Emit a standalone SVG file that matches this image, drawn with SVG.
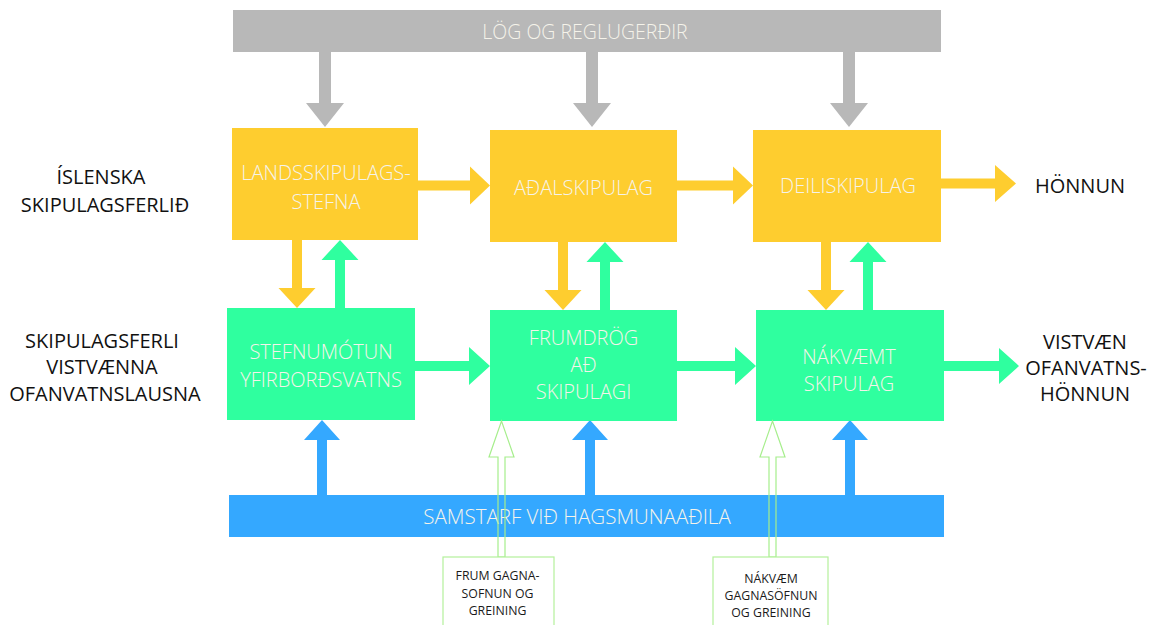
<svg xmlns="http://www.w3.org/2000/svg" width="1150" height="625" viewBox="0 0 1150 625">
<style>
.gray{fill:#b8b8b8}
.yel{fill:#fecd2f}
.grn{fill:#2fff9f}
.blu{fill:#34a8ff}
.open{fill:none;stroke:#a6ee8c;stroke-width:1.2}
.src{fill:#fff;stroke:#b4f09c;stroke-width:1.2}
text{font-family:"Open Sans","Liberation Sans",sans-serif;text-anchor:middle}
.in{fill:#f5f3ea;font-size:20px;font-weight:350}
.out{fill:#111;font-size:20px}
.sm{fill:#1a1a1a;font-size:12.3px}
</style>
<rect width="1150" height="625" fill="#fff"/>
<g id="connectors">
  <polygon class="gray" points="319,52 331,52 331,103 344,103 325,127 306,103 319,103"/>
  <polygon class="gray" points="586,52 598,52 598,103 611,103 592,127 573,103 586,103"/>
  <polygon class="gray" points="843,52 855,52 855,103 868,103 849,127 830,103 843,103"/>
  <polygon class="yel" points="418,180.5 470,180.5 470,166.5 490,185.5 470,204.5 470,190.5 418,190.5"/>
  <polygon class="yel" points="677,180.5 733,180.5 733,166.5 753,185.5 733,204.5 733,190.5 677,190.5"/>
  <polygon class="yel" points="940,178.5 995,178.5 995,165 1016,183.5 995,202 995,188.5 940,188.5"/>
  <polygon class="yel" points="292,240 302,240 302,288 315.5,288 297,308 278.5,288 292,288"/>
  <polygon class="yel" points="558,242 568,242 568,290 581.5,290 563,310 544.5,290 558,290"/>
  <polygon class="yel" points="821,242 831,242 831,290 844.5,290 826,310 807.5,290 821,290"/>
  <polygon class="grn" points="335,308 345,308 345,260 358.5,260 340,240 321.5,260 335,260"/>
  <polygon class="grn" points="600,310 610,310 610,262 623.5,262 605,242 586.5,262 600,262"/>
  <polygon class="grn" points="863,310 873,310 873,262 886.5,262 868,242 849.5,262 863,262"/>
  <polygon class="grn" points="415,361 469,361 469,347 490,366 469,385 469,371 415,371"/>
  <polygon class="grn" points="677,361 735,361 735,347 756,366 735,385 735,371 677,371"/>
  <polygon class="grn" points="943,361 999,361 999,348 1019,366 999,384 999,371 943,371"/>
  <polygon class="blu" points="317,495 327,495 327,440 340,440 322,420 304,440 317,440"/>
  <polygon class="blu" points="585,495 595,495 595,440 608,440 590,420 572,440 585,440"/>
  <polygon class="blu" points="845,495 855,495 855,440 868,440 850,420 832,440 845,440"/>
</g>
<g id="laws">
  <rect class="gray" x="233" y="10" width="708" height="42"/>
  <text class="in" x="585" y="39" style="font-size:19.5px">LÖG OG REGLUGERÐIR</text>
</g>
<g id="landsskipulag">
  <rect class="yel" x="232" y="128" width="186" height="112"/>
  <text class="in" x="326" y="180">LANDSSKIPULAGS-</text>
  <text class="in" x="326" y="209">STEFNA</text>
</g>
<g id="adalskipulag">
  <rect class="yel" x="490" y="130" width="187" height="112"/>
  <text class="in" x="583.5" y="195">AÐALSKIPULAG</text>
</g>
<g id="deiliskipulag">
  <rect class="yel" x="753" y="130" width="188" height="112"/>
  <text class="in" x="848" y="193">DEILISKIPULAG</text>
</g>
<g id="stefnumotun">
  <rect class="grn" x="227" y="308" width="188" height="112"/>
  <text class="in" x="321" y="359">STEFNUMÓTUN</text>
  <text class="in" x="321" y="387">YFIRBORÐSVATNS</text>
</g>
<g id="frumdrog">
  <rect class="grn" x="490" y="310" width="187" height="111"/>
  <text class="in" x="583.5" y="345">FRUMDRÖG</text>
  <text class="in" x="583.5" y="372">AÐ</text>
  <text class="in" x="583.5" y="399">SKIPULAGI</text>
</g>
<g id="nakvaemt">
  <rect class="grn" x="756" y="310" width="188" height="111"/>
  <text class="in" x="849" y="364">NÁKVÆMT</text>
  <text class="in" x="849" y="391">SKIPULAG</text>
</g>
<g id="samstarf">
  <rect class="blu" x="229" y="495" width="715" height="42"/>
  <text class="in" x="577" y="524" style="font-size:20.5px">SAMSTARF VIÐ HAGSMUNAAÐILA</text>
</g>
<g id="open-arrows">
  <polygon class="open" points="498,557 498,457 489,457 501.5,421 514,457 505,457 505,557"/>
  <polygon class="open" points="769,557 769,457 760,457 772.5,421 785,457 776,457 776,557"/>
</g>
<g id="frum-gagnasofnun">
  <rect class="src" x="443" y="557" width="111" height="80"/>
  <text class="sm" x="497.5" y="580">FRUM GAGNA-</text>
  <text class="sm" x="497.5" y="598">SOFNUN OG</text>
  <text class="sm" x="497.5" y="615">GREINING</text>
</g>
<g id="nakvaem-gagnasofnun">
  <rect class="src" x="713" y="557" width="115" height="80"/>
  <text class="sm" x="771" y="583">NÁKVÆM</text>
  <text class="sm" x="771" y="600">GAGNASÖFNUN</text>
  <text class="sm" x="771" y="617">OG GREINING</text>
</g>
<g id="label-islenska">
  <text class="out" x="101" y="184">ÍSLENSKA</text>
  <text class="out" x="105" y="212">SKIPULAGSFERLIÐ</text>
</g>
<g id="label-vistvaent">
  <text class="out" x="102" y="348">SKIPULAGSFERLI</text>
  <text class="out" x="102" y="374">VISTVÆNNA</text>
  <text class="out" x="105" y="401">OFANVATNSLAUSNA</text>
</g>
<g id="label-honnun">
  <text class="out" x="1080" y="193">HÖNNUN</text>
</g>
<g id="label-vistvaen-honnun">
  <text class="out" x="1085" y="349">VISTVÆN</text>
  <text class="out" x="1086" y="375">OFANVATNS-</text>
  <text class="out" x="1085" y="401">HÖNNUN</text>
</g>
</svg>
